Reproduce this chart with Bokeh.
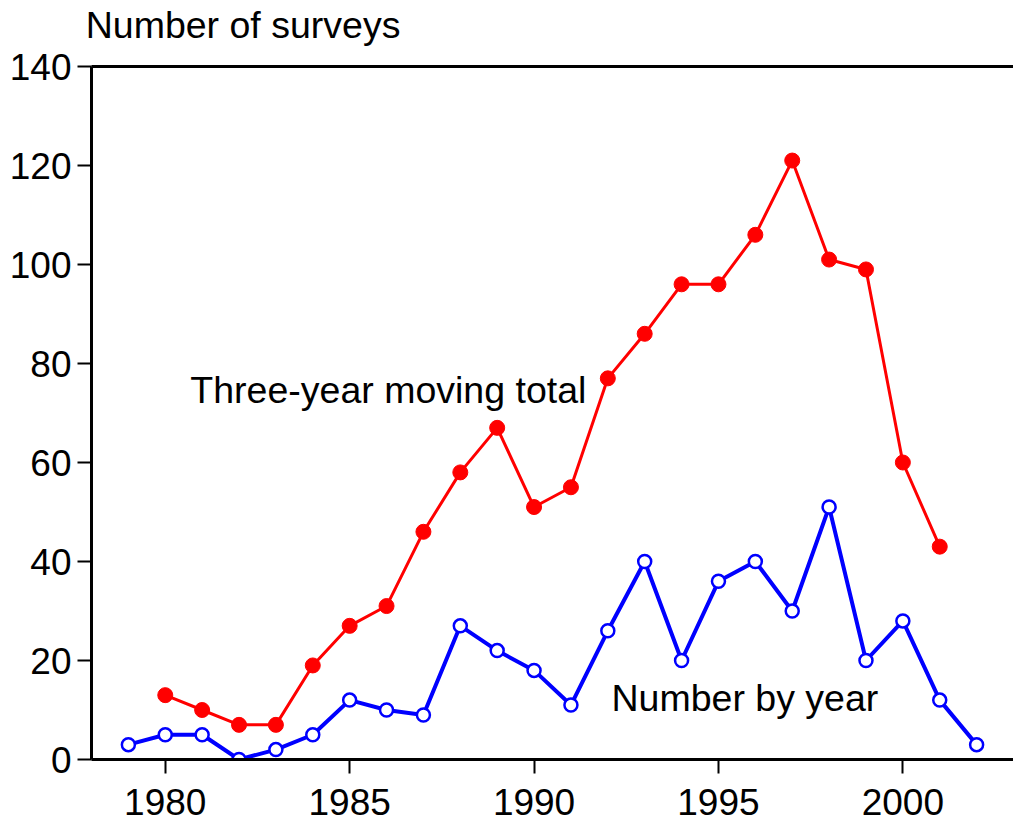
from bokeh.plotting import figure
from bokeh.models import LinearAxis, FixedTicker, Range1d, Label, ColumnDataSource
from bokeh.embed import file_html
from bokeh.resources import INLINE

# ---- data ----
years = [1979, 1980, 1981, 1982, 1983, 1984, 1985, 1986, 1987, 1988, 1989, 1990,
         1991, 1992, 1993, 1994, 1995, 1996, 1997, 1998, 1999, 2000, 2001, 2002]
number_by_year = [3, 5, 5, 0, 2, 5, 12, 10, 9, 27, 22, 18,
                  11, 26, 40, 20, 36, 40, 30, 51, 20, 28, 12, 3]
ma_years = [1980, 1981, 1982, 1983, 1984, 1985, 1986, 1987, 1988, 1989, 1990,
            1991, 1992, 1993, 1994, 1995, 1996, 1997, 1998, 1999, 2000, 2001]
moving_total = [13, 10, 7, 7, 19, 27, 31, 46, 58, 67, 51,
                55, 77, 86, 96, 96, 106, 121, 101, 99, 60, 43]
x_ticks = [1980, 1985, 1990, 1995, 2000]
y_ticks = [0, 20, 40, 60, 80, 100, 120, 140]
title_text = "Number of surveys"
label_ma = "Three-year moving total"
label_year = "Number by year"

FONT = "Liberation Sans"
TITLE_X = 1982.11  # horizontal centre of the y-axis title (placed on the top axis)

p = figure(width=1013, height=825, output_backend="svg", toolbar_location=None,
           x_range=Range1d(1978, 2003), y_range=Range1d(0, 140),
           x_axis_type=None, y_axis_type=None, title=None,
           min_border_left=91, min_border_right=0, min_border_top=66, min_border_bottom=66)
p.outline_line_color = None
p.xgrid.visible = False
p.ygrid.visible = False
p.background_fill_color = "white"
p.border_fill_color = "white"

def style_axis(ax):
    ax.axis_line_width = 3
    ax.axis_line_color = "black"
    ax.major_tick_line_width = 2
    ax.major_tick_line_color = "black"
    ax.major_tick_in = 0
    ax.major_tick_out = 14
    ax.minor_tick_line_color = None
    ax.major_label_text_font = FONT
    ax.major_label_text_font_size = "37px"
    ax.major_label_text_color = "black"

xaxis = LinearAxis(ticker=FixedTicker(ticks=x_ticks))
style_axis(xaxis)
xaxis.major_label_standoff = 15
p.add_layout(xaxis, "below")

yaxis = LinearAxis(ticker=FixedTicker(ticks=y_ticks))
style_axis(yaxis)
yaxis.major_label_standoff = 6
p.add_layout(yaxis, "left")

# top frame line; its single (invisible) tick carries the y-axis title text
top = LinearAxis(ticker=FixedTicker(ticks=[TITLE_X]))
top.axis_line_width = 3
top.axis_line_color = "black"
top.major_tick_line_color = None
top.major_tick_in = 0
top.major_tick_out = 0
top.minor_tick_line_color = None
top.major_label_overrides = {TITLE_X: title_text}
top.major_label_text_font = FONT
top.major_label_text_font_size = "37.5px"
top.major_label_text_color = "black"
top.major_label_standoff = 21
p.add_layout(top, "above")

src_ma = ColumnDataSource(dict(x=ma_years, y=moving_total))
src_y = ColumnDataSource(dict(x=years, y=number_by_year))

p.line("x", "y", source=src_ma, line_color="#FF0000", line_width=3)
p.scatter("x", "y", source=src_ma, size=15, fill_color="#FF0000", line_color="#FF0000", line_width=1)
p.line("x", "y", source=src_y, line_color="#0000FF", line_width=4)
p.scatter("x", "y", source=src_y, size=13, fill_color="white", line_color="#0000FF", line_width=2.5)

p.add_layout(Label(x=1980.68, y=74.6, text=label_ma, text_font=FONT, text_font_size="37.5px",
                   text_color="black", text_baseline="alphabetic", text_align="left"))
p.add_layout(Label(x=1992.1, y=12.5, text=label_year, text_font=FONT, text_font_size="37.5px",
                   text_color="black", text_baseline="alphabetic", text_align="left"))

open("out.html", "w").write(file_html(p, INLINE))
